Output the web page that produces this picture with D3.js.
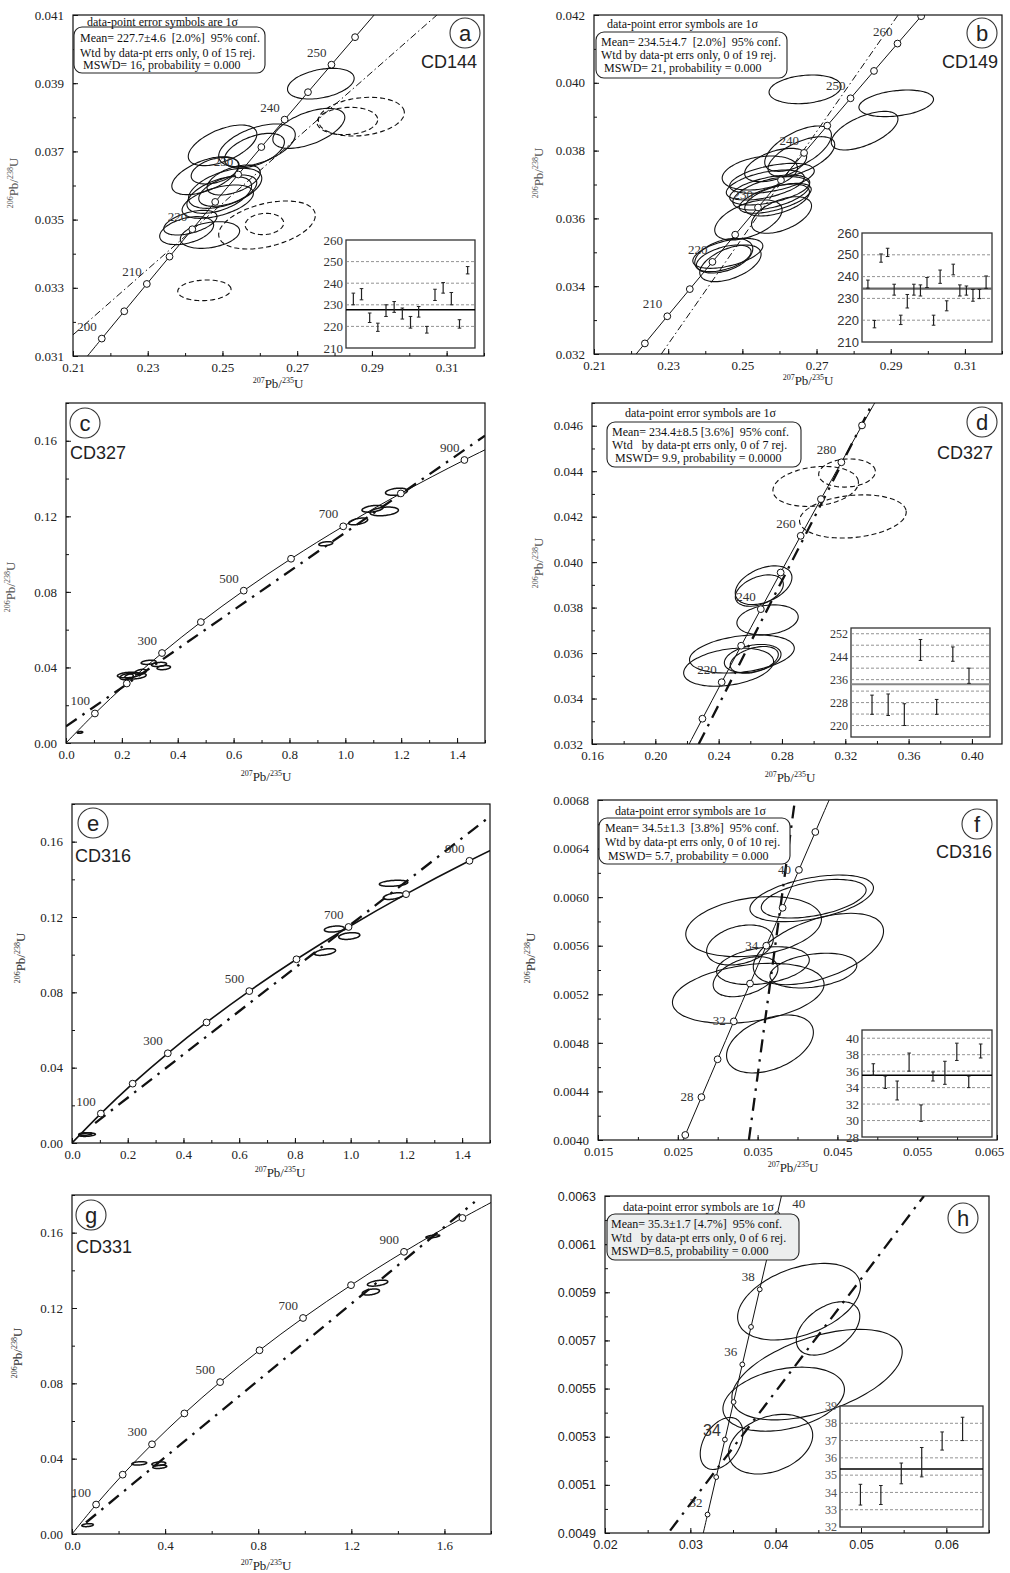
<!DOCTYPE html>
<html>
<head>
<meta charset="utf-8">
<script src="https://cdn.jsdelivr.net/npm/d3@7"></script>
<style>
  body { margin: 0; background: #fff; }
  svg { display: block; }
  text { white-space: pre; }
</style>
</head>
<body>
<svg id="fig" width="1010" height="1573"></svg>
<script>
// ---- concordia reference points: [age Ma, 207Pb/235U, 206Pb/238U]
const concordia5 = [
  [190,0.20577,0.029912],[195,0.21173,0.030712],[200,0.21770,0.031511],[205,0.22372,0.032312],
  [210,0.22976,0.033113],[215,0.23583,0.033914],[220,0.24193,0.034717],[225,0.24806,0.035519],
  [230,0.25422,0.036323],[235,0.26041,0.037127],[240,0.26664,0.037932],[245,0.27289,0.038737],
  [250,0.27917,0.039543],[255,0.28549,0.040350],[260,0.29183,0.041157],[265,0.29821,0.041965],
  [270,0.30462,0.042773],[275,0.31106,0.043582],[280,0.31753,0.044392],[285,0.32404,0.045202],
  [290,0.33057,0.046014],[295,0.33714,0.046825],[300,0.34374,0.047637]
];
const concordia100 = [
  [0,0,0],[100,0.10350,0.015633],[200,0.21770,0.031511],[300,0.34374,0.047637],
  [400,0.48281,0.064016],[500,0.63628,0.080650],[600,0.80563,0.097544],[700,0.99251,0.114702],
  [800,1.19873,0.132129],[900,1.42629,0.149828],[1000,1.67741,0.167804],[1100,1.95451,0.186049]
];
const concordia1 = [
  [24,0.023918,0.0037299],[25,0.024927,0.0038856],[26,0.025937,0.0040414],[27,0.026948,0.0041972],
  [28,0.027960,0.0043529],[29,0.028972,0.0045087],[30,0.029986,0.0046646],[31,0.031001,0.0048205],
  [32,0.032017,0.0049767],[33,0.033034,0.0051322],[34,0.034052,0.0052882],[35,0.035071,0.0054442],
  [36,0.036091,0.0056001],[37,0.037112,0.0057561],[38,0.038133,0.0059122],[39,0.039156,0.0060682],
  [40,0.040180,0.0062243],[41,0.041205,0.0063804],[42,0.042231,0.0065366],[43,0.043258,0.0066927],
  [44,0.044286,0.0068489]
];

// ---- error ellipses: [207Pb/235U, 206Pb/238U, err x, err y, rho]
const aEllipses = [
  [0.27633,0.038986,0.00892,0.00045,0.35],[0.27312,0.037676,0.00963,0.000587,0.55],
  [0.25003,0.037178,0.00918,0.000596,0.55],[0.25924,0.037178,0.01025,0.000626,0.5],
  [0.25855,0.037022,0.00803,0.000508,0.5],[0.24537,0.036288,0.00892,0.000557,0.55],
  [0.24805,0.036435,0.00642,0.000391,0.4],[0.25072,0.035917,0.00981,0.000587,0.5],
  [0.25142,0.035849,0.00776,0.00046,0.5],[0.24914,0.035722,0.00865,0.000538,0.5],
  [0.24874,0.035526,0.00954,0.000489,0.5],[0.24141,0.034910,0.00713,0.000362,0.5],
  [0.24042,0.034676,0.00722,0.000411,0.4],[0.24666,0.034548,0.00794,0.000391,0.3],
  [0.25300,0.036161,0.00713,0.00044,0.5]
];
const aRejected = [
  [0.28718,0.038019,0.0115,0.000567,0.2],[0.28342,0.037892,0.00812,0.0004,0.1],
  [0.26192,0.034842,0.01293,0.000704,0.4],[0.26123,0.034871,0.00515,0.000313,0.1],
  [0.24517,0.032926,0.00713,0.000303,0.1]
];
const bEllipses = [
  [0.2669,0.039807,0.0097,0.000423,0.2],[0.29148,0.039394,0.01006,0.000393,0.3],
  [0.28296,0.038588,0.00899,0.00057,0.6],[0.26502,0.038057,0.00899,0.000669,0.6],
  [0.26591,0.037821,0.00899,0.00059,0.6],[0.25897,0.037575,0.00836,0.000492,0.5],
  [0.25471,0.037339,0.01015,0.000501,0.3],[0.25798,0.037182,0.01141,0.000442,0.5],
  [0.25619,0.036985,0.01052,0.000442,0.5],[0.25738,0.036838,0.01079,0.000442,0.5],
  [0.25778,0.036739,0.01034,0.000492,0.5],[0.25887,0.036592,0.0097,0.000442,0.6],
  [0.26056,0.0361,0.00809,0.00054,0.5],[0.25163,0.035953,0.00908,0.00059,0.5],
  [0.24608,0.034969,0.00944,0.000442,0.5],[0.24499,0.0349,0.00782,0.000511,0.4],
  [0.24499,0.034822,0.00737,0.000393,0.5],[0.24678,0.034674,0.00827,0.00054,0.5],
  [0.25937,0.036543,0.00872,0.00047,0.5]
];
const cEllipses = [
  [1.183,0.1330,0.0393,0.0019,0.3],[1.0976,0.1240,0.038,0.0018,0.4],[1.139,0.1226,0.051,0.0023,0.3],
  [1.046,0.1173,0.034,0.0018,0.5],[0.930,0.1055,0.025,0.0011,0.4],[0.05,0.0056,0.01,0.0005,0.3],
  [0.224,0.036,0.040,0.0015,0.3],[0.249,0.0355,0.038,0.0016,0.3],[0.267,0.0376,0.021,0.0014,0.4],
  [0.296,0.0427,0.027,0.0011,0.3],[0.333,0.0416,0.027,0.0011,0.3],[0.35,0.0399,0.024,0.0011,0.3],
  [0.217,0.0351,0.024,0.0016,0.3]
];
const dEllipses = [
  [0.2684,0.038985,0.0179,0.000851,0.4],[0.2657,0.03875,0.01516,0.00069,0.4],
  [0.2709,0.03746,0.01937,0.00066,0.2],[0.2547,0.03596,0.0331,0.00084,0.3],
  [0.2463,0.03538,0.0284,0.00084,0.3],[0.2615,0.03576,0.0179,0.00062,0.3],
  [0.2625,0.0357,0.0152,0.00059,0.4]
];
const dRejected = [
  [0.3211,0.04392,0.0179,0.00062,0.1],[0.3013,0.04333,0.027,0.00088,0.2],
  [0.3248,0.04201,0.0337,0.00095,0.2]
];
const eEllipses = [
  [1.154,0.1379,0.051,0.0016,0.3],[1.154,0.1311,0.037,0.0018,0.5],[0.9416,0.1136,0.036,0.0016,0.3],
  [0.995,0.1099,0.038,0.0018,0.3],[0.908,0.1014,0.038,0.0018,0.5],[0.054,0.0044,0.03,0.0009,0.3],
  [0.048,0.0048,0.024,0.0007,0.3]
];
const fEllipses = [
  [0.04178,0.00599,0.00774,0.000192,0.45],[0.04203,0.005987,0.00657,0.000159,0.45],
  [0.03450,0.005757,0.0085,0.000247,0.25],[0.04262,0.005573,0.00816,0.000294,0.5],
  [0.03279,0.005606,0.00418,0.000165,0.3],[0.03567,0.005436,0.00581,0.000156,0.3],
  [0.04199,0.005395,0.00544,0.000143,0.3],[0.03349,0.005345,0.00406,0.000165,0.4],
  [0.03383,0.005208,0.0095,0.000247,0.3],[0.03655,0.004791,0.00544,0.000239,0.4]
];
const gEllipses = [
  [1.313,0.1332,0.044,0.0016,0.5],[1.284,0.1285,0.037,0.0016,0.4],[0.289,0.0375,0.032,0.0009,0.3],
  [0.373,0.0373,0.03,0.001,0.3],[0.377,0.0357,0.03,0.0009,0.3],[0.067,0.0047,0.025,0.0008,0.3],
  [1.55,0.158,0.03,0.0008,0.6]
];
const hEllipses = [
  [0.04274,0.005861,0.0072,0.000159,0.4],[0.04614,0.00575,0.00372,0.000111,0.45],
  [0.04485,0.005558,0.00998,0.000188,0.5],[0.04094,0.005456,0.00712,0.000133,0.3],
  [0.03366,0.005272,0.0025,0.000108,0.4],[0.03941,0.005269,0.00493,0.000124,0.3]
];

// ---- discordia (regression) lines, two end points each
const aDiscordia = [[0.21,0.03162],[0.3074,0.041]];
const bDiscordia = [[0.22814,0.032],[0.29198,0.042]];
const cDiscordia = [[0,0.0088],[1.5,0.1627]];
const dDiscordia = [[0.2274,0.032],[0.3373,0.047]];
const eDiscordia = [[0.083,0.0106],[1.5,0.1734]];
const fDiscordia = [[0.03391,0.004],[0.03968,0.0068]];
const gDiscordia = [[0.06,0.0061],[1.73,0.1763]];
const hDiscordia = [[0.02763,0.00491],[0.05738,0.0063]];

// ---- concordia markers and age labels [anchor age, text]
const aMarkers = [200,205,210,215,220,225,230,235,240,245,250,255];
const aLabels = [[200,"200"],[210,"210"],[220,"220"],[230,"230"],[240,"240"],[250,"250"]];
const bMarkers = [205,210,215,220,225,230,235,240,245,250,255,260,265];
const bLabels = [[210,"210"],[220,"220"],[230,"230"],[240,"240"],[250,"250"],[260,"260"]];
const cMarkers = [100,200,300,400,500,600,700,800,900];
const cLabels = [[100,"100"],[300,"300"],[500,"500"],[700,"700"],[900,"900"]];
const dMarkers = [210,220,230,240,250,260,270,280,290];
const dLabels = [[220,"220"],[240,"240"],[260,"260"],[280,"280"]];
const fMarkers = [26,28,30,32,34,36,38,40,42];
const fLabels = [[28,"28"],[32,"32"],[36,"34"],[40,"40"]];
const gMarkers = [100,200,300,400,500,600,700,800,900,1000];
const hMarkers = [32,33,34,35,36,37,38,39,40];
const hLabels = [[32,"32"],[34,"34"],[36,"36"],[38,"38"],[40,"40"]];

// ---- weighted mean insets: ages [low, high]
const aBars = [[230,235.4],[232.3,237.5],[221.8,226.2],[217.7,221.5],[224.6,230],[226.5,231.5],
  [223.4,228.5],[219.2,224.6],[224.3,229.2],[216.9,220],[232,237.2],[235.4,240.3],[230,235.7],
  [219.2,223.1],[244.3,247.7]];
const bBars = [[234.7,238.4],[216.5,219.9],[246.6,250.4],[249.2,253],[231.5,236.5],[218,222.3],
  [225.6,231.8],[231.5,236.5],[231.1,236.2],[235,239.6],[217.7,222.3],[236.9,243],[224.3,228.9],
  [240.8,245.7],[231.1,236.2],[231.5,235.7],[228.7,234.1],[229.9,234.1],[234.6,240.3]];
const dBars = [[223.9,230.6],[223.5,231],[220,227.6],[242.7,250],[223.9,229.1],[242.4,247.4],[234.7,240]];
const fBars = [[35.5,36.9],[33.9,35.4],[32.5,34.8],[36,38.2],[29.9,31.9],[34.8,35.9],[34.4,37.2],
  [37.3,39.4],[34,35.4],[37.6,39.3]];
const hBars = [[33.27,34.47],[33.3,34.4],[34.5,35.7],[34.9,36.6],[36.45,37.5],[37.0,38.35]];
const insetMeans = {a:227.7, b:234.5, d:234.4, f:35.5, h:35.35};

// ---- axis tick values
const abXTicks = [0.21,0.23,0.25,0.27,0.29,0.31];
const aYTicks = [0.031,0.033,0.035,0.037,0.039,0.041];
const bYTicks = [0.032,0.034,0.036,0.038,0.040,0.042];
const ceXTicks = [0,0.2,0.4,0.6,0.8,1.0,1.2,1.4];
const gXTicks = [0,0.4,0.8,1.2,1.6];
const cegYTicks = [0,0.04,0.08,0.12,0.16];
const dXTicks = [0.16,0.20,0.24,0.28,0.32,0.36,0.40];
const dYTicks = [0.032,0.034,0.036,0.038,0.040,0.042,0.044,0.046];
const fXTicks = [0.015,0.025,0.035,0.045,0.055,0.065];
const fYTicks = [0.0040,0.0044,0.0048,0.0052,0.0056,0.0060,0.0064,0.0068];
const hXTicks = [0.02,0.03,0.04,0.05,0.06];
const hYTicks = [0.0049,0.0051,0.0053,0.0055,0.0057,0.0059,0.0061,0.0063];

// ---- box texts
const aInfo = ["data-point error symbols are 1σ","Mean= 227.7±4.6  [2.0%]  95% conf.","Wtd by data-pt errs only, 0 of 15 rej."," MSWD= 16, probability = 0.000"];
const bInfo = ["data-point error symbols are 1σ","Mean= 234.5±4.7  [2.0%]  95% conf.","Wtd by data-pt errs only, 0 of 19 rej."," MSWD= 21, probability = 0.000"];
const dInfo = ["data-point error symbols are 1σ","Mean= 234.4±8.5 [3.6%]  95% conf.","Wtd   by data-pt errs only, 0 of 7 rej."," MSWD= 9.9, probability = 0.0000"];
const fInfo = ["data-point error symbols are 1σ","Mean= 34.5±1.3  [3.8%]  95% conf.","Wtd by data-pt errs only, 0 of 10 rej."," MSWD= 5.7, probability = 0.000"];
const hInfo = ["data-point error symbols are 1σ","Mean= 35.3±1.7 [4.7%]  95% conf.","Wtd   by data-pt errs only, 0 of 6 rej.","MSWD=8.5, probability = 0.000"];

const SERIF = "'Liberation Serif', 'Times New Roman', serif";
const SANS = "'Liberation Sans', Arial, sans-serif";
const svg = d3.select("#fig");

const panels = [
  {id:"a", box:[73,15,484,356], xd:[0.21,0.32], yd:[0.031,0.041], xTicks:abXTicks, yTicks:aYTicks,
   xMinor:0.01, yMinor:0.001, xFmt:".2f", yFmt:".3f", font:SERIF,
   table:concordia5, line:[195,265], markers:aMarkers, labels:aLabels, r:3.4, lineW:1,
   ellipses:aEllipses, rejected:aRejected, ellW:1.1, disc:aDiscordia, bold:false,
   xTitle:[278,388], yTitle:[18,183], titleColor:"#555",
   info:{lines:aInfo, head:[87,26], box:[74,27,265,73], x:80, ys:[42,57,69], fill:"#fff"},
   inset:{box:[346,240,475,348], domain:[210,260], grid:[220,230,240,250], labels:[210,220,230,240,250,260],
          bars:aBars, pad:0.9, font:SERIF, fs:13, meanColor:"#000", meanW:1.5},
   tag:{c:[465,33], letter:"a", name:"CD144", nx:477, ny:68, anchor:"end"}},
  {id:"b", box:[594,15,1002,354], xd:[0.21,0.32], yd:[0.032,0.042], xTicks:abXTicks, yTicks:bYTicks,
   xMinor:0.01, yMinor:0.001, xFmt:".2f", yFmt:".3f", font:SERIF,
   table:concordia5, line:[190,270], markers:bMarkers, labels:bLabels, r:3.4, lineW:1,
   ellipses:bEllipses, rejected:[], ellW:1.1, disc:bDiscordia, bold:false,
   xTitle:[808,385], yTitle:[543,173], titleColor:"#555",
   info:{lines:bInfo, head:[607,28], box:[596,32,787,78], x:601, ys:[46,59,72], fill:"#fff"},
   inset:{box:[862,233,992,342], domain:[210,260], grid:[220,230,240,250], labels:[210,220,230,240,250,260],
          bars:bBars, pad:0.9, font:SANS, fs:13, meanColor:"#666", meanW:2.2},
   tag:{c:[982,33], letter:"b", name:"CD149", nx:998, ny:68, anchor:"end"}},
  {id:"c", box:[66,403,485,743], xd:[0,1.5], yd:[0,0.18], xTicks:ceXTicks, yTicks:cegYTicks,
   xMinor:0.1, yMinor:0.02, xFmt:".1f", yFmt:".2f", font:SERIF,
   table:concordia100, line:[0,1000], markers:cMarkers, labels:cLabels, r:3.4, lineW:1,
   ellipses:cEllipses, rejected:[], ellW:1.5, disc:cDiscordia, bold:true,
   xTitle:[266,781], yTitle:[15,587], titleColor:"#555",
   tag:{c:[85,423], letter:"c", name:"CD327", nx:70, ny:459, anchor:"start"}},
  {id:"d", box:[592,403,1002,744], xd:[0.16,0.419], yd:[0.032,0.047], xTicks:dXTicks, yTicks:dYTicks,
   xMinor:0.02, yMinor:0.001, xFmt:".2f", yFmt:".3f", font:SERIF,
   table:concordia5, line:[200,300], markers:dMarkers, labels:dLabels, r:3.4, lineW:1,
   ellipses:dEllipses, rejected:dRejected, ellW:1.1, disc:dDiscordia, bold:true,
   xTitle:[790,782], yTitle:[543,563], titleColor:"#555",
   info:{lines:dInfo, head:[625,417], box:[607,422,801,467], x:612, ys:[436,449,462], fill:"#fff"},
   inset:{box:[851,628,990,737], domain:[216,254], grid:[220,224,228,232,236,240,244,248,252], labels:[220,228,236,244,252],
          bars:dBars, pad:1.3, font:SERIF, fs:12, meanColor:"#888", meanW:2},
   tag:{c:[982,422], letter:"d", name:"CD327", nx:993, ny:459, anchor:"end"}},
  {id:"e", box:[72,804,490,1143], xd:[0,1.5], yd:[0,0.18], xTicks:ceXTicks, yTicks:cegYTicks,
   xMinor:0.1, yMinor:0.02, xFmt:".1f", yFmt:".2f", font:SERIF,
   table:concordia100, line:[0,1000], markers:cMarkers, labels:cLabels, r:3.4, lineW:1.6,
   ellipses:eEllipses, rejected:[], ellW:1.5, disc:eDiscordia, bold:true,
   xTitle:[280,1177], yTitle:[25,958], titleColor:"#333",
   tag:{c:[93,823], letter:"e", name:"CD316", nx:75, ny:862, anchor:"start"}},
  {id:"f", box:[598,800,997,1140], xd:[0.015,0.065], yd:[0.004,0.0068], xTicks:fXTicks, yTicks:fYTicks,
   xMinor:0.005, yMinor:0.0002, xFmt:".3f", yFmt:".4f", font:SERIF, lastTickShift:-8,
   table:concordia1, line:[24,44], markers:fMarkers, labels:fLabels, r:3.4, lineW:1,
   labelDefault:[-8, 4, "end", 13, SERIF],
   ellipses:fEllipses, rejected:[], ellW:1.1, disc:fDiscordia, bold:true,
   xTitle:[793,1172], yTitle:[535,958], titleColor:"#333",
   info:{lines:fInfo, head:[615,815], box:[599,818,790,864], x:605, ys:[832,846,860], fill:"#fff"},
   inset:{box:[862,1030,992,1137], domain:[28,41], grid:[30,32,34,36,38,40], labels:[28,30,32,34,36,38,40],
          bars:fBars, pad:0.95, font:SERIF, fs:13, meanColor:"#000", meanW:1.5},
   tag:{c:[977,824], letter:"f", name:"CD316", nx:992, ny:858, anchor:"end"}},
  {id:"g", box:[72,1195,491,1534], xd:[0,1.8], yd:[0,0.18], xTicks:gXTicks, yTicks:cegYTicks,
   xMinor:0.2, yMinor:0.02, xFmt:".1f", yFmt:".2f", font:SERIF,
   table:concordia100, line:[0,1100], markers:gMarkers, labels:cLabels, r:3.4, lineW:1,
   ellipses:gEllipses, rejected:[], ellW:1.5, disc:gDiscordia, bold:true,
   xTitle:[266,1570], yTitle:[22,1353], titleColor:"#333",
   tag:{c:[91,1215], letter:"g", name:"CD331", nx:76, ny:1253, anchor:"start"}},
  {id:"h", box:[605,1196,989,1533], xd:[0.02,0.065], yd:[0.0049,0.0063], xTicks:hXTicks, yTicks:hYTicks,
   xMinor:0.005, yMinor:0.0001, xFmt:".2f", yFmt:".4f", font:SANS,
   table:concordia1, line:[31,41], markers:hMarkers, labels:hLabels, r:2.4, lineW:1,
   ellipses:hEllipses, rejected:[], ellW:1.1, disc:hDiscordia, bold:true,
   labelOffsets:{34:[-4,-4,"end",16,SANS], 40:[15,-6,"start",13,SERIF]},
   info:{lines:hInfo, head:[623,1211], box:[607,1214,799,1260], x:611, ys:[1228,1242,1255], fill:"#eceeee"},
   inset:{box:[840,1406,983,1527], domain:[32,39], grid:[33,34,35,36,37,38], labels:[32,33,34,35,36,37,38,39],
          bars:hBars, pad:1, font:SERIF, fs:12, meanColor:"#000", meanW:1.5, labelColor:"#555"},
   tag:{c:[963,1218], letter:"h"}}
];

const angles = d3.range(0, 360, 5).map(d => d * Math.PI / 180);

function stepValues(lo, hi, step) {
  const n = Math.round((hi - lo) / step);
  return d3.range(n + 1).map(i => +(lo + i * step).toFixed(6)).filter(v => v <= hi + 1e-9);
}

function pbTitle(x0, y0, rot, a, b, col) {
  const t = svg.append("text")
    .attr("transform", `translate(${x0},${y0}) rotate(${rot})`)
    .attr("text-anchor", "middle").attr("font-family", SERIF)
    .attr("font-size", 13).attr("fill", col);
  t.append("tspan").attr("font-size", 8).attr("dy", -5).text(a);
  t.append("tspan").attr("dy", 5).text("Pb/");
  t.append("tspan").attr("font-size", 8).attr("dy", -5).text(b);
  t.append("tspan").attr("dy", 5).text("U");
}

function drawPanel(p) {
  const [x0, y0, x1, y1] = p.box;
  const x = d3.scaleLinear().domain(p.xd).range([x0, x1]);
  const y = d3.scaleLinear().domain(p.yd).range([y1, y0]);
  const g = svg.append("g");

  svg.append("clipPath").attr("id", "clip-" + p.id)
    .append("rect").attr("x", x0).attr("y", y0).attr("width", x1 - x0).attr("height", y1 - y0);
  const plot = g.append("g").attr("clip-path", `url(#clip-${p.id})`);

  // error ellipses
  const ell = e => {
    const [cx, cy, ex, ey, rho] = e;
    const q = Math.sqrt(1 - rho * rho);
    return d3.line().curve(d3.curveCardinalClosed)(angles.map(t =>
      [x(cx + ex * Math.cos(t)), y(cy + ey * (rho * Math.cos(t) + q * Math.sin(t)))]));
  };
  plot.selectAll(".rej").data(p.rejected).join("path")
    .attr("d", ell).attr("fill", "none").attr("stroke", "#111")
    .attr("stroke-width", p.ellW).attr("stroke-dasharray", "5,3");
  plot.selectAll(".ell").data(p.ellipses).join("path")
    .attr("d", ell).attr("fill", "none").attr("stroke", "#111").attr("stroke-width", p.ellW);

  // concordia curve
  const pts = p.table.filter(d => d[0] >= p.line[0] && d[0] <= p.line[1]);
  plot.append("path")
    .attr("d", d3.line().curve(d3.curveCatmullRom).x(d => x(d[1])).y(d => y(d[2]))(pts))
    .attr("fill", "none").attr("stroke", "#111").attr("stroke-width", p.lineW);

  // discordia
  plot.append("path")
    .attr("d", d3.line().x(d => x(d[0])).y(d => y(d[1]))(p.disc))
    .attr("fill", "none").attr("stroke", "#111")
    .attr("stroke-width", p.bold ? 2.3 : 1)
    .attr("stroke-dasharray", p.bold ? "13,7,2.5,7" : "7,3,1.5,3");

  // age markers
  const mk = p.table.filter(d => p.markers.includes(d[0]));
  plot.selectAll(".mk").data(mk).join("circle")
    .attr("cx", d => x(d[1])).attr("cy", d => y(d[2])).attr("r", p.r)
    .attr("fill", "#fff").attr("stroke", "#111").attr("stroke-width", 1);

  // frame
  g.append("rect").attr("x", x0).attr("y", y0).attr("width", x1 - x0).attr("height", y1 - y0)
    .attr("fill", "none").attr("stroke", "#111").attr("stroke-width", 1.2);

  // axes
  const fs = p.font === SANS ? 12.5 : 13;
  const styleAxis = sel => {
    sel.select(".domain").remove();
    sel.attr("font-family", p.font).attr("font-size", fs);
    sel.selectAll("text").attr("fill", "#222");
    sel.selectAll("line").attr("stroke", "#111");
  };
  g.append("g").attr("transform", `translate(0,${y1})`)
    .call(d3.axisBottom(x).tickValues(stepValues(p.xd[0], p.xd[1], p.xMinor)).tickFormat("").tickSizeInner(-3).tickSizeOuter(0))
    .call(styleAxis);
  const gxMajor = g.append("g").attr("transform", `translate(0,${y1})`)
    .call(d3.axisBottom(x).tickValues(p.xTicks).tickFormat(d3.format(p.xFmt)).tickSizeInner(-5).tickSizeOuter(0).tickPadding(7))
    .call(styleAxis);
  if (p.lastTickShift) {
    gxMajor.selectAll(".tick text").filter((d, i, n) => i === n.length - 1).attr("dx", p.lastTickShift);
  }
  g.append("g").attr("transform", `translate(${x0},0)`)
    .call(d3.axisLeft(y).tickValues(stepValues(p.yd[0], p.yd[1], p.yMinor)).tickFormat("").tickSizeInner(-3).tickSizeOuter(0))
    .call(styleAxis);
  g.append("g").attr("transform", `translate(${x0},0)`)
    .call(d3.axisLeft(y).tickValues(p.yTicks).tickFormat(d3.format(p.yFmt)).tickSizeInner(-5).tickSizeOuter(0).tickPadding(9))
    .call(styleAxis);

  if (p.xTitle) pbTitle(p.xTitle[0], p.xTitle[1], 0, "207", "235", "#222");
  if (p.yTitle) pbTitle(p.yTitle[0], p.yTitle[1], -90, "206", "238", p.titleColor);

  // statistics box
  if (p.info) {
    const b = p.info.box;
    g.append("rect").attr("x", b[0]).attr("y", b[1]).attr("width", b[2] - b[0]).attr("height", b[3] - b[1])
      .attr("rx", 8).attr("fill", p.info.fill).attr("stroke", "#222").attr("stroke-width", 1.1);
    g.append("text").attr("x", p.info.head[0]).attr("y", p.info.head[1])
      .attr("font-family", SERIF).attr("font-size", 12).attr("fill", "#111")
      .attr("xml:space", "preserve").text(p.info.lines[0]);
    p.info.lines.slice(1).forEach((t, i) => {
      g.append("text").attr("x", p.info.x).attr("y", p.info.ys[i])
        .attr("font-family", SERIF).attr("font-size", 12).attr("fill", "#111")
        .attr("xml:space", "preserve").text(t);
    });
  }

  // age labels (drawn after the box so none is hidden)
  (p.labels || []).forEach(([age, txt]) => {
    const d = p.table.find(r => r[0] === age);
    const o = (p.labelOffsets && p.labelOffsets[txt]) || p.labelDefault || [-5, -8, "end", 13, SERIF];
    g.append("text").attr("x", x(d[1]) + o[0]).attr("y", y(d[2]) + o[1])
      .attr("text-anchor", o[2]).attr("font-family", o[4]).attr("font-size", o[3])
      .attr("fill", "#333").text(txt);
  });

  // weighted mean inset
  if (p.inset) {
    const ins = p.inset;
    const [ix0, iy0, ix1, iy1] = ins.box;
    const yi = d3.scaleLinear().domain(ins.domain).range([iy1, iy0]);
    const xi = d3.scalePoint().domain(d3.range(ins.bars.length)).range([ix0, ix1]).padding(ins.pad);
    const ig = g.append("g");
    ig.append("rect").attr("x", ix0).attr("y", iy0).attr("width", ix1 - ix0).attr("height", iy1 - iy0)
      .attr("fill", "#fff").attr("stroke", "#333").attr("stroke-width", 1.3);
    ig.selectAll(".gr").data(ins.grid).join("line")
      .attr("x1", ix0).attr("x2", ix1).attr("y1", d => yi(d)).attr("y2", d => yi(d))
      .attr("stroke", "#777").attr("stroke-width", 0.8).attr("stroke-dasharray", "3,2");
    ig.append("line").attr("x1", ix0).attr("x2", ix1)
      .attr("y1", yi(insetMeans[p.id])).attr("y2", yi(insetMeans[p.id]))
      .attr("stroke", ins.meanColor).attr("stroke-width", ins.meanW);
    ins.bars.forEach((d, i) => {
      const cx = xi(i);
      ig.append("line").attr("x1", cx).attr("x2", cx).attr("y1", yi(d[0])).attr("y2", yi(d[1]))
        .attr("stroke", "#222").attr("stroke-width", 1.2);
      [d[0], d[1]].forEach(v => ig.append("line").attr("x1", cx - 1.8).attr("x2", cx + 1.8)
        .attr("y1", yi(v)).attr("y2", yi(v)).attr("stroke", "#222").attr("stroke-width", 1));
    });
    ig.selectAll(".lb").data(ins.labels).join("text")
      .attr("x", ix0 - 3).attr("y", d => yi(d)).attr("dy", "0.35em")
      .attr("text-anchor", "end").attr("font-family", ins.font).attr("font-size", ins.fs)
      .attr("fill", ins.labelColor || "#333").text(d => d);
  }

  // panel tag and sample name
  const t = p.tag;
  g.append("circle").attr("cx", t.c[0]).attr("cy", t.c[1]).attr("r", 15)
    .attr("fill", "#fff").attr("stroke", "#333").attr("stroke-width", 1.1);
  g.append("text").attr("x", t.c[0]).attr("y", t.c[1]).attr("dy", "0.36em")
    .attr("text-anchor", "middle").attr("font-family", SANS).attr("font-size", 22)
    .attr("fill", "#222").text(t.letter);
  if (t.name) {
    g.append("text").attr("x", t.nx).attr("y", t.ny).attr("text-anchor", t.anchor)
      .attr("font-family", SANS).attr("font-size", 18).attr("fill", "#222").text(t.name);
  }
}

panels.forEach(drawPanel);
</script>
</body>
</html>
